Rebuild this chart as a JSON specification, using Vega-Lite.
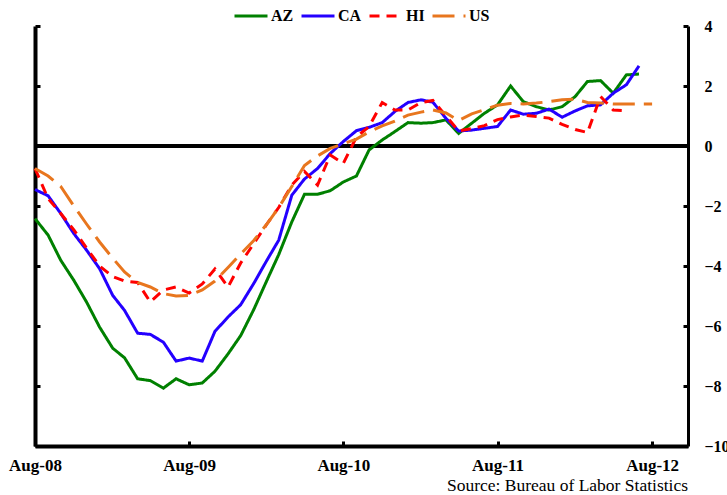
{
"$schema": "https://vega.github.io/schema/vega-lite/v6.json",
"width": 653, "height": 420,
"autosize": "none",
"padding": {"left": 35, "top": 26, "right": 39, "bottom": 49},
"background": "white",
"config": {"view": {"stroke": null}, "font": "Liberation Serif"},
"title": {"text": "Source: Bureau of Labor Statistics", "orient": "bottom", "anchor": "end", "frame": "group", "font": "Liberation Serif", "fontSize": 17.5, "fontWeight": "normal", "color": "black", "offset": 4},
"layer": [
{
"data": {"values": [{"zero": 0}]},
"mark": {"type": "rule", "color": "black", "strokeWidth": 4},
"encoding": {
"y": {"field": "zero", "type": "quantitative", "scale": {"domain": [-10, 4], "nice": false, "zero": false},
"axis": {"orient": "left", "labels": false, "values": [-10, -8, -6, -4, -2, 0, 2, 4], "tickSize": -5, "tickWidth": 3, "tickColor": "black", "domainColor": "black", "domainWidth": 4, "grid": false, "title": null}}
}
},
{
"data": {"values": [
{"date":"2008-08-01","state":"AZ","value":-2.42},{"date":"2008-09-01","state":"AZ","value":-2.97},{"date":"2008-10-01","state":"AZ","value":-3.81},{"date":"2008-11-01","state":"AZ","value":-4.48},{"date":"2008-12-01","state":"AZ","value":-5.2},{"date":"2009-01-01","state":"AZ","value":-6.04},{"date":"2009-02-01","state":"AZ","value":-6.74},{"date":"2009-03-01","state":"AZ","value":-7.06},{"date":"2009-04-01","state":"AZ","value":-7.76},{"date":"2009-05-01","state":"AZ","value":-7.82},{"date":"2009-06-01","state":"AZ","value":-8.07},{"date":"2009-07-01","state":"AZ","value":-7.76},{"date":"2009-08-01","state":"AZ","value":-7.96},{"date":"2009-09-01","state":"AZ","value":-7.9},{"date":"2009-10-01","state":"AZ","value":-7.51},{"date":"2009-11-01","state":"AZ","value":-6.93},{"date":"2009-12-01","state":"AZ","value":-6.32},{"date":"2010-01-01","state":"AZ","value":-5.45},{"date":"2010-02-01","state":"AZ","value":-4.48},{"date":"2010-03-01","state":"AZ","value":-3.62},{"date":"2010-04-01","state":"AZ","value":-2.53},{"date":"2010-05-01","state":"AZ","value":-1.61},{"date":"2010-06-01","state":"AZ","value":-1.61},{"date":"2010-07-01","state":"AZ","value":-1.49},{"date":"2010-08-01","state":"AZ","value":-1.2},{"date":"2010-09-01","state":"AZ","value":-1.0},{"date":"2010-10-01","state":"AZ","value":-0.13},{"date":"2010-11-01","state":"AZ","value":0.2},{"date":"2010-12-01","state":"AZ","value":0.48},{"date":"2011-01-01","state":"AZ","value":0.78},{"date":"2011-02-01","state":"AZ","value":0.76},{"date":"2011-03-01","state":"AZ","value":0.78},{"date":"2011-04-01","state":"AZ","value":0.87},{"date":"2011-05-01","state":"AZ","value":0.42},{"date":"2011-06-01","state":"AZ","value":0.76},{"date":"2011-07-01","state":"AZ","value":1.09},{"date":"2011-08-01","state":"AZ","value":1.37},{"date":"2011-09-01","state":"AZ","value":2.0},{"date":"2011-10-01","state":"AZ","value":1.48},{"date":"2011-11-01","state":"AZ","value":1.31},{"date":"2011-12-01","state":"AZ","value":1.2},{"date":"2012-01-01","state":"AZ","value":1.31},{"date":"2012-02-01","state":"AZ","value":1.65},{"date":"2012-03-01","state":"AZ","value":2.15},{"date":"2012-04-01","state":"AZ","value":2.18},{"date":"2012-05-01","state":"AZ","value":1.76},{"date":"2012-06-01","state":"AZ","value":2.37},{"date":"2012-07-01","state":"AZ","value":2.4},
{"date":"2008-08-01","state":"CA","value":-1.45},{"date":"2008-09-01","state":"CA","value":-1.66},{"date":"2008-10-01","state":"CA","value":-2.25},{"date":"2008-11-01","state":"CA","value":-2.92},{"date":"2008-12-01","state":"CA","value":-3.47},{"date":"2009-01-01","state":"CA","value":-4.09},{"date":"2009-02-01","state":"CA","value":-4.98},{"date":"2009-03-01","state":"CA","value":-5.48},{"date":"2009-04-01","state":"CA","value":-6.24},{"date":"2009-05-01","state":"CA","value":-6.28},{"date":"2009-06-01","state":"CA","value":-6.54},{"date":"2009-07-01","state":"CA","value":-7.17},{"date":"2009-08-01","state":"CA","value":-7.07},{"date":"2009-09-01","state":"CA","value":-7.17},{"date":"2009-10-01","state":"CA","value":-6.18},{"date":"2009-11-01","state":"CA","value":-5.7},{"date":"2009-12-01","state":"CA","value":-5.29},{"date":"2010-01-01","state":"CA","value":-4.58},{"date":"2010-02-01","state":"CA","value":-3.81},{"date":"2010-03-01","state":"CA","value":-3.14},{"date":"2010-04-01","state":"CA","value":-1.64},{"date":"2010-05-01","state":"CA","value":-1.1},{"date":"2010-06-01","state":"CA","value":-0.75},{"date":"2010-07-01","state":"CA","value":-0.25},{"date":"2010-08-01","state":"CA","value":0.15},{"date":"2010-09-01","state":"CA","value":0.51},{"date":"2010-10-01","state":"CA","value":0.62},{"date":"2010-11-01","state":"CA","value":0.78},{"date":"2010-12-01","state":"CA","value":1.15},{"date":"2011-01-01","state":"CA","value":1.45},{"date":"2011-02-01","state":"CA","value":1.54},{"date":"2011-03-01","state":"CA","value":1.46},{"date":"2011-04-01","state":"CA","value":0.92},{"date":"2011-05-01","state":"CA","value":0.5},{"date":"2011-06-01","state":"CA","value":0.53},{"date":"2011-07-01","state":"CA","value":0.59},{"date":"2011-08-01","state":"CA","value":0.65},{"date":"2011-09-01","state":"CA","value":1.2},{"date":"2011-10-01","state":"CA","value":1.06},{"date":"2011-11-01","state":"CA","value":1.09},{"date":"2011-12-01","state":"CA","value":1.23},{"date":"2012-01-01","state":"CA","value":0.96},{"date":"2012-02-01","state":"CA","value":1.17},{"date":"2012-03-01","state":"CA","value":1.34},{"date":"2012-04-01","state":"CA","value":1.37},{"date":"2012-05-01","state":"CA","value":1.76},{"date":"2012-06-01","state":"CA","value":2.04},{"date":"2012-07-01","state":"CA","value":2.67},
{"date":"2008-08-01","state":"HI","value":-0.75},{"date":"2008-09-01","state":"HI","value":-1.75},{"date":"2008-10-01","state":"HI","value":-2.25},{"date":"2008-11-01","state":"HI","value":-2.8},{"date":"2008-12-01","state":"HI","value":-3.4},{"date":"2009-01-01","state":"HI","value":-4.0},{"date":"2009-02-01","state":"HI","value":-4.35},{"date":"2009-03-01","state":"HI","value":-4.5},{"date":"2009-04-01","state":"HI","value":-4.55},{"date":"2009-05-01","state":"HI","value":-5.2},{"date":"2009-06-01","state":"HI","value":-4.8},{"date":"2009-07-01","state":"HI","value":-4.7},{"date":"2009-08-01","state":"HI","value":-4.9},{"date":"2009-09-01","state":"HI","value":-4.6},{"date":"2009-10-01","state":"HI","value":-4.1},{"date":"2009-11-01","state":"HI","value":-4.7},{"date":"2009-12-01","state":"HI","value":-3.9},{"date":"2010-01-01","state":"HI","value":-3.25},{"date":"2010-02-01","state":"HI","value":-2.6},{"date":"2010-03-01","state":"HI","value":-2.05},{"date":"2010-04-01","state":"HI","value":-1.3},{"date":"2010-05-01","state":"HI","value":-0.85},{"date":"2010-06-01","state":"HI","value":-1.3},{"date":"2010-07-01","state":"HI","value":-0.3},{"date":"2010-08-01","state":"HI","value":-0.58},{"date":"2010-09-01","state":"HI","value":0.3},{"date":"2010-10-01","state":"HI","value":0.65},{"date":"2010-11-01","state":"HI","value":1.45},{"date":"2010-12-01","state":"HI","value":1.2},{"date":"2011-01-01","state":"HI","value":1.2},{"date":"2011-02-01","state":"HI","value":1.45},{"date":"2011-03-01","state":"HI","value":1.52},{"date":"2011-04-01","state":"HI","value":1.0},{"date":"2011-05-01","state":"HI","value":0.5},{"date":"2011-06-01","state":"HI","value":0.58},{"date":"2011-07-01","state":"HI","value":0.68},{"date":"2011-08-01","state":"HI","value":0.88},{"date":"2011-09-01","state":"HI","value":0.97},{"date":"2011-10-01","state":"HI","value":1.03},{"date":"2011-11-01","state":"HI","value":0.98},{"date":"2011-12-01","state":"HI","value":0.93},{"date":"2012-01-01","state":"HI","value":0.72},{"date":"2012-02-01","state":"HI","value":0.55},{"date":"2012-03-01","state":"HI","value":0.45},{"date":"2012-04-01","state":"HI","value":1.65},{"date":"2012-05-01","state":"HI","value":1.2},{"date":"2012-06-01","state":"HI","value":1.18},
{"date":"2008-08-01","state":"US","value":-0.75},{"date":"2008-09-01","state":"US","value":-1.0},{"date":"2008-10-01","state":"US","value":-1.35},{"date":"2008-11-01","state":"US","value":-2.0},{"date":"2008-12-01","state":"US","value":-2.6},{"date":"2009-01-01","state":"US","value":-3.2},{"date":"2009-02-01","state":"US","value":-3.74},{"date":"2009-03-01","state":"US","value":-4.2},{"date":"2009-04-01","state":"US","value":-4.55},{"date":"2009-05-01","state":"US","value":-4.7},{"date":"2009-06-01","state":"US","value":-4.92},{"date":"2009-07-01","state":"US","value":-5.0},{"date":"2009-08-01","state":"US","value":-4.98},{"date":"2009-09-01","state":"US","value":-4.8},{"date":"2009-10-01","state":"US","value":-4.5},{"date":"2009-11-01","state":"US","value":-4.05},{"date":"2009-12-01","state":"US","value":-3.6},{"date":"2010-01-01","state":"US","value":-3.15},{"date":"2010-02-01","state":"US","value":-2.6},{"date":"2010-03-01","state":"US","value":-2.05},{"date":"2010-04-01","state":"US","value":-1.35},{"date":"2010-05-01","state":"US","value":-0.65},{"date":"2010-06-01","state":"US","value":-0.33},{"date":"2010-07-01","state":"US","value":-0.08},{"date":"2010-08-01","state":"US","value":0.07},{"date":"2010-09-01","state":"US","value":0.23},{"date":"2010-10-01","state":"US","value":0.47},{"date":"2010-11-01","state":"US","value":0.67},{"date":"2010-12-01","state":"US","value":0.83},{"date":"2011-01-01","state":"US","value":1.03},{"date":"2011-02-01","state":"US","value":1.13},{"date":"2011-03-01","state":"US","value":1.2},{"date":"2011-04-01","state":"US","value":1.1},{"date":"2011-05-01","state":"US","value":0.85},{"date":"2011-06-01","state":"US","value":1.07},{"date":"2011-07-01","state":"US","value":1.21},{"date":"2011-08-01","state":"US","value":1.36},{"date":"2011-09-01","state":"US","value":1.42},{"date":"2011-10-01","state":"US","value":1.4},{"date":"2011-11-01","state":"US","value":1.43},{"date":"2011-12-01","state":"US","value":1.48},{"date":"2012-01-01","state":"US","value":1.54},{"date":"2012-02-01","state":"US","value":1.56},{"date":"2012-03-01","state":"US","value":1.45},{"date":"2012-04-01","state":"US","value":1.43},{"date":"2012-05-01","state":"US","value":1.4},{"date":"2012-06-01","state":"US","value":1.4},{"date":"2012-07-01","state":"US","value":1.4},{"date":"2012-08-01","state":"US","value":1.4}
]},
"mark": {"type": "line", "strokeWidth": 3},
"encoding": {
"x": {"field": "date", "type": "temporal",
"scale": {"type": "utc", "domain": [{"year": 2008, "month": 8, "date": 1, "utc": true}, {"year": 2012, "month": 10, "date": 25, "utc": true}], "nice": false},
"axis": {"orient": "bottom", "title": null, "grid": false,
"values": [{"year": 2008, "month": 8, "date": 1, "utc": true}, {"year": 2009, "month": 8, "date": 1, "utc": true}, {"year": 2010, "month": 8, "date": 1, "utc": true}, {"year": 2011, "month": 8, "date": 1, "utc": true}, {"year": 2012, "month": 8, "date": 1, "utc": true}],
"labelExpr": "utcFormat(datum.value, '%b-%y')",
"tickSize": -5, "tickWidth": 3, "tickColor": "black", "domainColor": "black", "domainWidth": 4,
"labelFont": "Liberation Serif", "labelFontWeight": "bold", "labelFontSize": 17, "labelColor": "black",
"labelPadding": 16, "labelFlush": false, "labelOverlap": false, "labelBound": false}},
"y": {"field": "value", "type": "quantitative", "scale": {"domain": [-10, 4], "nice": false, "zero": false},
"axis": {"orient": "right", "title": null, "grid": false, "values": [-10, -8, -6, -4, -2, 0, 2, 4],
"tickSize": -5, "tickWidth": 3, "tickColor": "black", "domainColor": "black", "domainWidth": 3,
"labelFont": "Liberation Serif", "labelFontWeight": "bold", "labelFontSize": 16, "labelColor": "black",
"labelAlign": "left", "labelBaseline": "middle", "labelPadding": 21, "labelFlush": false, "labelOverlap": false, "labelBound": false}},
"color": {"field": "state", "type": "nominal",
"scale": {"domain": ["AZ", "CA", "HI", "US"], "range": ["#008000", "#2400FF", "#FF0000", "#E8761E"]},
"legend": {"orient": "none", "legendX": 198, "legendY": -28, "direction": "horizontal", "title": null,
"labelFont": "Liberation Serif", "labelFontWeight": "bold", "labelFontSize": 16, "labelColor": "black",
"symbolType": "stroke", "symbolSize": 1089, "symbolStrokeWidth": 3, "labelOffset": 2, "columnPadding": 1, "padding": 0}},
"strokeDash": {"field": "state", "type": "nominal",
"scale": {"domain": ["AZ", "CA", "HI", "US"], "range": [[1, 0], [1, 0], [10, 7], [22, 9]]},
"legend": {"orient": "none", "legendX": 198, "legendY": -28, "direction": "horizontal", "title": null,
"labelFont": "Liberation Serif", "labelFontWeight": "bold", "labelFontSize": 16, "labelColor": "black",
"symbolType": "stroke", "symbolSize": 1089, "symbolStrokeWidth": 3, "labelOffset": 2, "columnPadding": 1, "padding": 0}}
}
}
],
"resolve": {"axis": {"y": "independent"}}
}
